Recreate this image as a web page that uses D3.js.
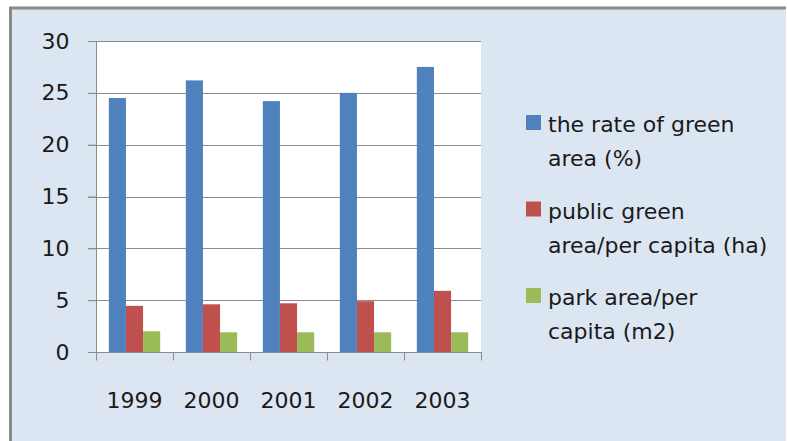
<!DOCTYPE html>
<html>
<head>
<meta charset="utf-8">
<script src="https://cdn.jsdelivr.net/npm/d3@7"></script>
<style>
  html, body { margin: 0; padding: 0; background: #fff; }
  svg text { font-family: "DejaVu Sans", sans-serif; fill: #1a1a1a; }
</style>
</head>
<body>
<script>
const years = ['1999', '2000', '2001', '2002', '2003'];
const seriesNames = [
  ['the rate of green', 'area (%)'],
  ['public green', 'area/per capita (ha)'],
  ['park area/per', 'capita (m2)']
];
const greenRate = [24.5, 26.2, 24.2, 25.0, 27.5];
const publicGreen = [4.45, 4.6, 4.7, 4.9, 5.9];
const parkArea = [2.0, 1.9, 1.9, 1.9, 1.9];
const yTicks = [0, 5, 10, 15, 20, 25, 30];
const colors = ['#4f81bd', '#c0504d', '#9bbb59'];

const series = [greenRate, publicGreen, parkArea];

const width = 787, height = 441;
const plot = { left: 96, right: 481, top: 41, bottom: 352 };

const svg = d3.select('body').append('svg')
  .attr('width', width)
  .attr('height', height);

// chart panel with its grey frame on top and left
svg.append('rect')
  .attr('x', 9).attr('y', 7)
  .attr('width', 777).attr('height', height)
  .attr('fill', '#dce6f2');
svg.append('path')
  .attr('d', `M10.5,${height}V8H786`)
  .attr('fill', 'none')
  .attr('stroke', '#8a8a8a')
  .attr('stroke-width', 3);

const x = d3.scaleBand()
  .domain(years)
  .range([plot.left, plot.right]);

const x1 = d3.scaleBand()
  .domain(d3.range(series.length))
  .range([0, x.bandwidth()])
  .paddingInner(0)
  .paddingOuter(0.75);

const y = d3.scaleLinear()
  .domain([0, 30])
  .range([plot.bottom, plot.top]);

svg.append('rect')
  .attr('x', plot.left).attr('y', plot.top)
  .attr('width', plot.right - plot.left)
  .attr('height', plot.bottom - plot.top)
  .attr('fill', '#fff');

// horizontal gridlines
svg.append('g')
  .selectAll('line')
  .data(yTicks.filter(d => d > 0))
  .join('line')
  .attr('x1', plot.left - 8).attr('x2', plot.right)
  .attr('y1', d => Math.round(y(d)) + 0.5)
  .attr('y2', d => Math.round(y(d)) + 0.5)
  .attr('stroke', '#8c8c8c')
  .attr('stroke-width', 1);

// bars
svg.append('g')
  .selectAll('g')
  .data(series)
  .join('g')
  .attr('fill', (d, i) => colors[i])
  .each(function(vals, si) {
    d3.select(this).selectAll('rect')
      .data(vals)
      .join('rect')
      .attr('x', (d, i) => x(years[i]) + x1(si))
      .attr('width', x1.bandwidth())
      .attr('y', d => y(d))
      .attr('height', d => y(0) - y(d));
  });

// y axis
const yAxis = svg.append('g')
  .attr('transform', `translate(${plot.left + 0.5},0)`)
  .call(d3.axisLeft(y).tickValues(yTicks).tickSize(8).tickPadding(19));
yAxis.select('.domain').attr('stroke', '#8c8c8c').attr('d', `M0,${plot.top}V${plot.bottom}`);
yAxis.selectAll('.tick line').attr('stroke', '#8c8c8c');
yAxis.selectAll('.tick text').attr('font-size', 22).attr('fill', '#1a1a1a')
  .style('font-family', '"DejaVu Sans", sans-serif');

// x axis
const xAxis = svg.append('g')
  .attr('transform', `translate(0,${plot.bottom + 0.5})`);
xAxis.append('line')
  .attr('x1', plot.left - 8).attr('x2', plot.right + 1)
  .attr('stroke', '#8c8c8c');
xAxis.selectAll('line.tick')
  .data(years.concat(['end']))
  .join('line')
  .attr('class', 'tick')
  .attr('x1', (d, i) => Math.round(plot.left + i * x.step()) + 0.5)
  .attr('x2', (d, i) => Math.round(plot.left + i * x.step()) + 0.5)
  .attr('y1', 0).attr('y2', 8)
  .attr('stroke', '#8c8c8c');
xAxis.selectAll('text')
  .data(years)
  .join('text')
  .attr('x', d => x(d) + x.bandwidth() / 2)
  .attr('y', 55)
  .attr('text-anchor', 'middle')
  .attr('font-size', 22)
  .text(d => d);

// legend
const legend = svg.append('g')
  .selectAll('g')
  .data(seriesNames)
  .join('g')
  .attr('transform', (d, i) => `translate(526,${115 + i * 86.5})`);
legend.append('rect')
  .attr('width', 15).attr('height', 15)
  .attr('fill', (d, i) => colors[i]);
legend.append('text')
  .attr('x', 22)
  .attr('font-size', 22)
  .selectAll('tspan')
  .data(d => d)
  .join('tspan')
  .attr('x', 22)
  .attr('y', (d, i) => 17 + i * 34)
  .text(d => d);
</script>
</body>
</html>
